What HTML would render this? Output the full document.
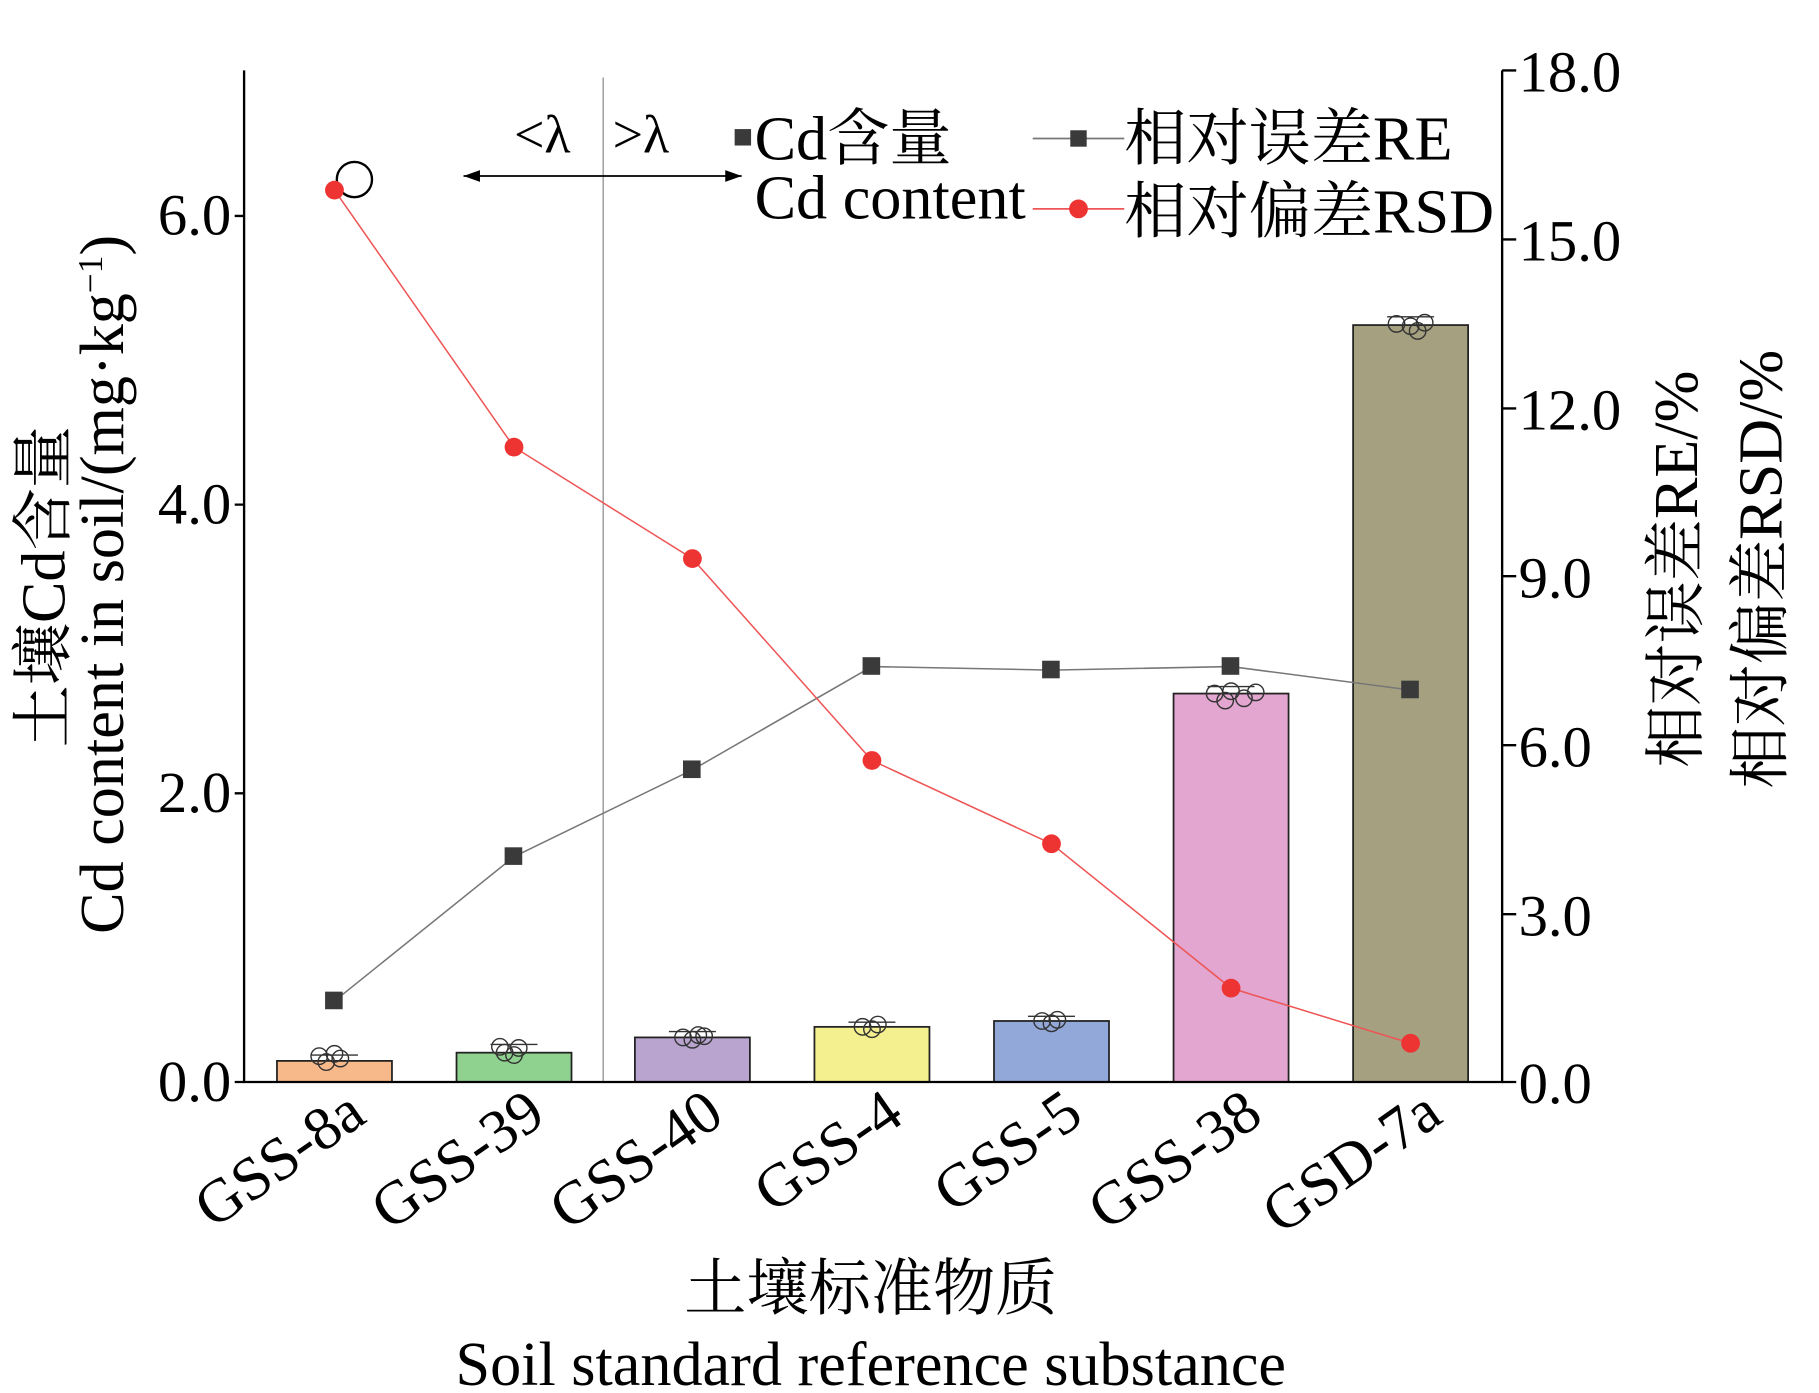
<!DOCTYPE html><html><head><meta charset="utf-8"><style>body{margin:0;background:#fff}svg{display:block}</style></head><body>
<svg width="1819" height="1393" viewBox="0 0 1550 1187" preserveAspectRatio="none" xmlns="http://www.w3.org/2000/svg" font-family="Liberation Serif, Noto Serif CJK SC, serif">
<g stroke="#222" stroke-width="1.5">
<rect x="236" y="904" width="98" height="18" fill="#f7b98a"/>
<rect x="389" y="897" width="98" height="25" fill="#8fd18e"/>
<rect x="541" y="884" width="98" height="38" fill="#b9a3cf"/>
<rect x="694" y="875" width="98" height="47" fill="#f5f08f"/>
<rect x="847" y="870" width="98" height="52" fill="#91a8d8"/>
<rect x="1000" y="591" width="98" height="331" fill="#e2a6d0"/>
<rect x="1153" y="277" width="98" height="645" fill="#a4a080"/>
</g>
<g stroke="#333" stroke-width="1.2" fill="none">
<path d="M265 899h40M418 890h40M570 879h40M723 871h40M876 866h40M1029 585h40M1182 270h40"/>
<circle cx="278" cy="905" r="7"/><circle cx="290" cy="902" r="7"/><circle cx="285" cy="898" r="7"/><circle cx="272" cy="900" r="7"/>
<circle cx="430" cy="897" r="7"/><circle cx="442" cy="893" r="7"/><circle cx="438" cy="899" r="7"/><circle cx="426" cy="892" r="7"/>
<circle cx="582" cy="884" r="7"/><circle cx="595" cy="882" r="7"/><circle cx="590" cy="886" r="7"/><circle cx="600" cy="883" r="7"/>
<circle cx="735" cy="875" r="7"/><circle cx="748" cy="873" r="7"/><circle cx="743" cy="877" r="7"/>
<circle cx="888" cy="870" r="7"/><circle cx="901" cy="869" r="7"/><circle cx="896" cy="872" r="7"/>
<circle cx="1035" cy="591" r="7"/><circle cx="1049" cy="589" r="7"/><circle cx="1060" cy="595" r="7"/><circle cx="1044" cy="597" r="7"/><circle cx="1070" cy="590" r="7"/>
<circle cx="1190" cy="276" r="7"/><circle cx="1202" cy="278" r="7"/><circle cx="1214" cy="275" r="7"/><circle cx="1208" cy="282" r="7"/>
<circle cx="302" cy="153" r="15" stroke="#000" stroke-width="2"/>
</g>
<line x1="514" y1="66" x2="514" y2="922" stroke="#999" stroke-width="1.2"/>
<polyline points="285,853 438,730 590,656 743,568 896,571 1049,568 1202,588" fill="none" stroke="#777" stroke-width="1.3"/>
<g fill="#3a3a3a"><rect x="277" y="845" width="15" height="15"/><rect x="430" y="722" width="15" height="15"/><rect x="582" y="648" width="15" height="15"/><rect x="735" y="560" width="15" height="15"/><rect x="888" y="563" width="15" height="15"/><rect x="1041" y="560" width="15" height="15"/><rect x="1194" y="580" width="15" height="15"/></g>
<polyline points="285,162 438,381 590,476 743,648 896,719 1049,842 1202,889" fill="none" stroke="#e55" stroke-width="1.3"/>
<g fill="#e33"><circle cx="285" cy="162" r="8"/><circle cx="438" cy="381" r="8"/><circle cx="590" cy="476" r="8"/><circle cx="743" cy="648" r="8"/><circle cx="896" cy="719" r="8"/><circle cx="1049" cy="842" r="8"/><circle cx="1202" cy="889" r="8"/></g>
<g stroke="#000" stroke-width="2" fill="none">
<path d="M208 60V922H1280V60"/>
<path d="M208 184h-8M208 430h-8M208 676h-8M208 922h-8"/>
<path d="M1280 60h12M1280 204h12M1280 348h12M1280 491h12M1280 635h12M1280 779h12M1280 922h12"/>
<path d="M395 150H632" stroke-width="1.5"/>
</g>
<path d="M395 150l14-5v10zM632 150l-14-5v10z" fill="#000"/>
<g font-size="50" fill="#000">
<text x="197" y="200" text-anchor="end">6.0</text><text x="197" y="446" text-anchor="end">4.0</text><text x="197" y="692" text-anchor="end">2.0</text><text x="197" y="938" text-anchor="end">0.0</text>
<text x="1294" y="78">18.0</text><text x="1294" y="222">15.0</text><text x="1294" y="366">12.0</text><text x="1294" y="509">9.0</text><text x="1294" y="653">6.0</text><text x="1294" y="797">3.0</text><text x="1294" y="940">0.0</text>
<text x="438" y="130" font-size="46">&lt;λ</text><text x="522" y="130" font-size="46">&gt;λ</text>
<text x="643" y="136" font-size="53">Cd含量</text><text x="643" y="186" font-size="53">Cd content</text>
<text x="958" y="136" font-size="53">相对误差RE</text><text x="958" y="198" font-size="53">相对偏差RSD</text>
<text x="742" y="1116" text-anchor="middle" font-size="53">土壤标准物质</text>
<text x="742" y="1180" text-anchor="middle" font-size="53">Soil standard reference substance</text>
<g text-anchor="end" font-size="52">
<text transform="translate(314,955) rotate(-35)">GSS-8a</text>
<text transform="translate(467,955) rotate(-35)">GSS-39</text>
<text transform="translate(619,955) rotate(-35)">GSS-40</text>
<text transform="translate(772,955) rotate(-35)">GSS-4</text>
<text transform="translate(925,955) rotate(-35)">GSS-5</text>
<text transform="translate(1078,955) rotate(-35)">GSS-38</text>
<text transform="translate(1231,955) rotate(-35)">GSD-7a</text>
</g>
<text transform="translate(55,500) rotate(-90)" text-anchor="middle" font-size="53">土壤Cd含量</text>
<text transform="translate(105,498) rotate(-90)" text-anchor="middle" font-size="53">Cd content in soil/(mg·kg<tspan font-size="30" dy="-18">−1</tspan><tspan dy="18">)</tspan></text>
<text transform="translate(1446,485) rotate(-90)" text-anchor="middle" font-size="53">相对误差RE/%</text>
<text transform="translate(1518,485) rotate(-90)" text-anchor="middle" font-size="53">相对偏差RSD/%</text>
</g>
<rect x="626" y="110" width="14" height="14" fill="#3a3a3a"/>
<line x1="880" y1="118" x2="958" y2="118" stroke="#777" stroke-width="1.5"/><rect x="912" y="111" width="14" height="14" fill="#3a3a3a"/>
<line x1="880" y1="178" x2="958" y2="178" stroke="#e55" stroke-width="1.5"/><circle cx="919" cy="178" r="8" fill="#e33"/>
</svg></body></html>
